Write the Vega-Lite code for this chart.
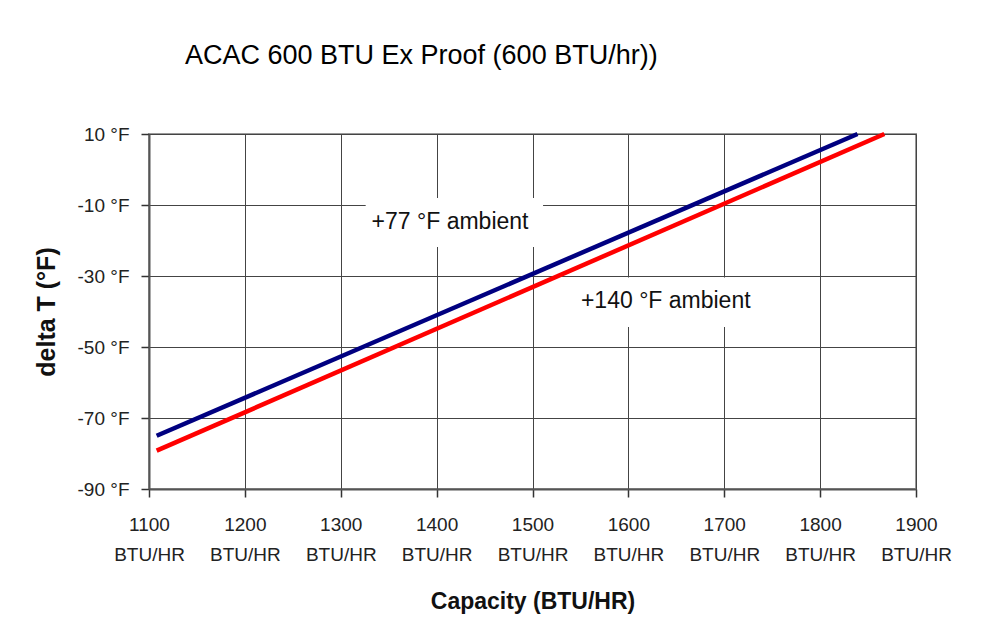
{
  "$schema": "https://vega.github.io/schema/vega-lite/v6.json",
  "autosize": "none",
  "width": 767,
  "height": 355,
  "padding": {"left": 149, "top": 134, "right": 87, "bottom": 146},
  "background": "white",
  "title": {
    "text": "ACAC 600 BTU Ex Proof (600 BTU/hr))",
    "anchor": "start",
    "frame": "group",
    "dx": 36,
    "offset": 34,
    "baseline": "alphabetic",
    "font": "Liberation Sans",
    "fontSize": 27,
    "fontWeight": "normal",
    "color": "#000"
  },
  "config": {
    "view": {"stroke": "#999", "strokeWidth": 2},
    "axis": {
      "gridColor": "#444",
      "gridWidth": 1,
      "gridOpacity": 1,
      "domainColor": "#555",
      "domainWidth": 2,
      "tickColor": "#333",
      "tickWidth": 1.5,
      "tickSize": 8,
      "labelFont": "Liberation Sans",
      "labelFontSize": 19,
      "labelColor": "#222",
      "titleFont": "Liberation Sans",
      "titleFontWeight": "bold",
      "titleColor": "#111"
    }
  },
  "datasets": {
    "lines": [
      {"series": "+77 °F ambient", "capacity": 1108, "deltaT": -75.0},
      {"series": "+77 °F ambient", "capacity": 1839, "deltaT": 10.0},
      {"series": "+140 °F ambient", "capacity": 1108, "deltaT": -79.2},
      {"series": "+140 °F ambient", "capacity": 1867, "deltaT": 10.0}
    ],
    "notes": [
      {"label": "+77 °F ambient", "x": 1414, "y": -14.8, "x1": 1326, "x2": 1511, "y1": -8, "y2": -21.8},
      {"label": "+140 °F ambient", "x": 1639, "y": -37, "x1": 1550, "x2": 1745, "y1": -30.4, "y2": -44.4}
    ]
  },
  "layer": [
    {
      "data": {"name": "notes"},
      "mark": {"type": "rect", "fill": "white", "stroke": null},
      "encoding": {
        "x": {"field": "x1", "type": "quantitative"},
        "x2": {"field": "x2"},
        "y": {"field": "y1", "type": "quantitative"},
        "y2": {"field": "y2"}
      }
    },
    {
      "data": {"name": "lines"},
      "mark": {"type": "line", "strokeWidth": 4.5, "strokeCap": "butt"},
      "encoding": {
        "x": {
          "field": "capacity",
          "type": "quantitative",
          "scale": {"domain": [1100, 1900], "nice": false, "zero": false},
          "axis": {
            "values": [1100, 1200, 1300, 1400, 1500, 1600, 1700, 1800, 1900],
            "labelExpr": "[datum.label, 'BTU/HR']",
            "format": "d",
            "labelLineHeight": 30,
            "labelPadding": 18,
            "labelBaseline": "top",
            "labelFlush": false,
            "title": "Capacity (BTU/HR)",
            "titleFontSize": 23,
            "titlePadding": 26
          }
        },
        "y": {
          "field": "deltaT",
          "type": "quantitative",
          "scale": {"domain": [-90, 10], "nice": false, "zero": false},
          "axis": {
            "values": [10, -10, -30, -50, -70, -90],
            "labelExpr": "datum.value + ' °F'",
            "labelPadding": 12,
            "labelFontSize": 19,
            "labelFlush": false,
            "title": "delta T (°F)",
            "titleFontSize": 25,
            "titlePadding": 18
          }
        },
        "color": {
          "field": "series",
          "type": "nominal",
          "scale": {"domain": ["+77 °F ambient", "+140 °F ambient"], "range": ["#000080", "#ff0000"]},
          "legend": null
        }
      }
    },
    {
      "data": {"name": "notes"},
      "mark": {"type": "text", "font": "Liberation Sans", "fontSize": 23, "color": "#111", "align": "center", "baseline": "middle"},
      "encoding": {
        "x": {"field": "x", "type": "quantitative"},
        "y": {"field": "y", "type": "quantitative"},
        "text": {"field": "label"}
      }
    }
  ]
}
